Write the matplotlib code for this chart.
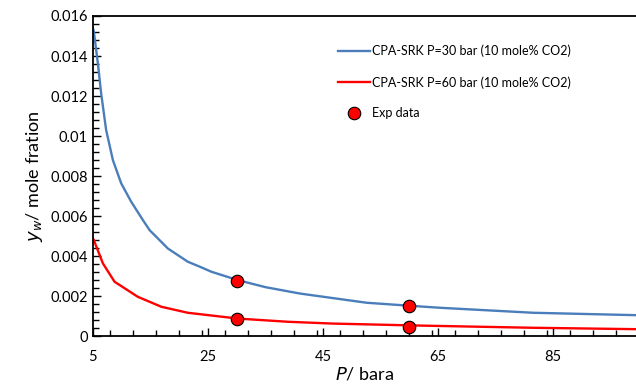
import numpy as np
import matplotlib.pyplot as plt
from matplotlib.ticker import MultipleLocator, FixedLocator

# CPA-SRK model curves
p_30 = [5, 5.17, 5.87, 6.44, 7.31, 8.48, 9.92, 11.66, 13.7, 14.86, 18.04, 21.5, 23.6,
        25.6, 30.2, 35, 41, 52.6, 60.1, 65.3, 81.5, 99.4]
y_30 = [0.0154, 0.01522, 0.01364, 0.01214, 0.0103, 0.0088, 0.00764, 0.00672, 0.0058,
        0.0053, 0.00438, 0.00372, 0.00347, 0.00322, 0.0028, 0.00245, 0.00213, 0.00167,
        0.00152, 0.00142, 0.00117, 0.00105]
p_60 = [5, 5.17, 6.74, 8.77, 12.8, 16.9, 21.5, 23.6, 30.2, 38.9, 46.7, 60.1, 65.3, 81.5, 99.4]
y_60 = [0.0049, 0.0048, 0.00364, 0.00272, 0.00197, 0.00147, 0.00117, 0.0011, 0.00088,
        0.00072, 0.00063, 0.00054, 0.00051, 0.00042, 0.00035]

# experimental points
p_exp = [30, 30, 60, 60]
y_exp = [0.00277, 0.00085, 0.00152, 0.00047]

plt.rcParams['font.family'] = ['Lato', 'DejaVu Sans']

fig = plt.figure(figsize=(6.36, 3.9), dpi=100)
ax = fig.add_axes([0.146, 0.138, 0.854, 0.821])

ax.plot(p_30, y_30, color='#4a7ebb', lw=1.7, label='CPA-SRK P=30 bar (10 mole% CO2)')
ax.plot(p_60, y_60, color='#ff0000', lw=1.7, label='CPA-SRK P=60 bar (10 mole% CO2)')
ax.plot(p_exp, y_exp, 'o', ms=9, mfc='#ff0000', mec='black', mew=0.8, ls='none', label='Exp data')

ax.set_xlim(5, 99.4)
ax.set_ylim(0, 0.016)
ax.xaxis.set_major_locator(FixedLocator([5, 25, 45, 65, 85]))
ax.xaxis.set_minor_locator(MultipleLocator(4))
ax.yaxis.set_minor_locator(MultipleLocator(0.0004))
ax.set_yticks(np.arange(0, 0.0161, 0.002))
ax.set_yticklabels(['0', '0.002', '0.004', '0.006', '0.008', '0.01', '0.012', '0.014', '0.016'])

ax.tick_params(which='both', direction='in', width=1, labelsize=10.5)
ax.tick_params(which='major', length=6)
ax.tick_params(which='minor', length=4)
ax.tick_params(axis='x', pad=10)
for s in ['left', 'bottom', 'top']:
    ax.spines[s].set_linewidth(1.3)
ax.spines['right'].set_visible(False)

ax.set_xlabel('$\\it{P}$/ bara', fontsize=13, labelpad=1)
ax.set_ylabel('$\\it{y_w}$/ mole fration', fontsize=13, labelpad=4)

ax.legend(loc='upper left', bbox_to_anchor=(0.43, 0.945), frameon=False, fontsize=9,
          handlelength=2.6, labelspacing=1.5, handletextpad=0.15)

fig.savefig('out.png', dpi=100)
